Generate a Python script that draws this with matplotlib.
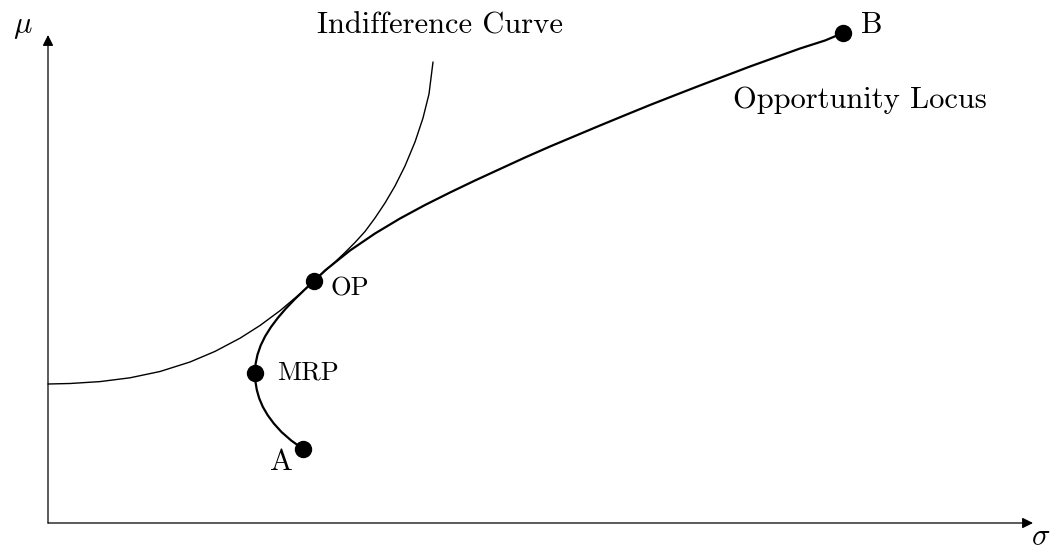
import matplotlib
matplotlib.use("Agg")
import matplotlib.pyplot as plt

# opportunity locus, A -> MRP -> OP -> B  (sigma, mu)
locus_sigma = [2.550, 2.432, 2.336, 2.259, 2.197, 2.148, 2.112, 2.088, 2.074,
               2.070,
               2.076, 2.095, 2.127, 2.172, 2.230, 2.299, 2.378, 2.466, 2.561,
               2.660,
               2.77, 3.02, 3.27, 3.52, 3.77, 4.02, 4.27, 4.52, 4.77, 5.02,
               5.27, 5.52, 5.77, 6.02, 6.27, 6.52, 6.77, 7.02, 7.27, 7.52,
               7.77, 7.95]
locus_mu = [0.740, 0.825, 0.909, 0.994, 1.078, 1.162, 1.247, 1.331, 1.416,
            1.500,
            1.592, 1.684, 1.776, 1.868, 1.960, 2.052, 2.144, 2.236, 2.328,
            2.420,
            2.525, 2.725, 2.895, 3.045, 3.180, 3.305, 3.425, 3.540, 3.655,
            3.765, 3.870, 3.975, 4.078, 4.180, 4.278, 4.375, 4.470, 4.565,
            4.655, 4.745, 4.825, 4.900]

# indifference curve, tangent to the locus at OP
indiff_sigma = [0.00, 0.22, 0.52, 0.82, 1.12, 1.42, 1.67, 1.92, 2.12, 2.32,
                2.52, 2.66, 2.77, 2.87, 2.97, 3.07, 3.17, 3.27, 3.37, 3.47,
                3.57, 3.67, 3.75, 3.81, 3.85]
indiff_mu = [1.390, 1.395, 1.414, 1.452, 1.515, 1.610, 1.716, 1.848, 1.975,
             2.123, 2.292, 2.420, 2.520, 2.610, 2.705, 2.805, 2.915, 3.050,
             3.200, 3.370, 3.570, 3.810, 4.050, 4.290, 4.610]

# marked points
pt_names = ["A", "MRP", "OP", "B"]
pt_sigma = [2.55, 2.07, 2.66, 7.95]
pt_mu = [0.74, 1.50, 2.42, 4.90]

plt.rcParams["font.family"] = ["cmr10", "DejaVu Serif"]
plt.rcParams["mathtext.fontset"] = "cm"
plt.rcParams["axes.unicode_minus"] = False

fig = plt.figure(figsize=(10.55, 5.49), dpi=100)
ax = fig.add_axes([0, 0, 1, 1])
ax.set_xlim(-0.48, 10.07)
ax.set_ylim(-0.26, 5.23)
ax.axis("off")

# axes with arrow heads
arr = dict(arrowstyle="-|>", lw=0.9, color="black", mutation_scale=16,
           shrinkA=0, shrinkB=0)
ax.annotate("", xy=(0, 4.88), xytext=(0, 0), arrowprops=arr)
ax.annotate("", xy=(9.85, 0), xytext=(0, 0), arrowprops=arr)

ax.plot(indiff_sigma, indiff_mu, color="black", lw=1.0,
        solid_joinstyle="round", solid_capstyle="round")
ax.plot(locus_sigma, locus_mu, color="black", lw=1.6,
        solid_joinstyle="round", solid_capstyle="round")
ax.plot(pt_sigma, pt_mu, "o", color="black", ms=11.5, zorder=5)

big, small = 22, 19
ax.text(3.92, 4.90, "Indifference Curve", fontsize=big, ha="center", va="baseline")
ax.text(6.85, 4.15, "Opportunity Locus", fontsize=big, ha="left", va="baseline")
ax.text(8.13, 4.90, pt_names[3], fontsize=big, ha="left", va="baseline")
ax.text(2.45, 0.53, pt_names[0], fontsize=big, ha="right", va="baseline")
ax.text(2.82, 2.27, pt_names[2], fontsize=small, ha="left", va="baseline")
ax.text(2.29, 1.44, pt_names[1], fontsize=small, ha="left", va="baseline")
ax.text(-0.35, 4.90, r"$\mu$", fontsize=big, ha="left", va="baseline")
ax.text(9.83, -0.22, r"$\sigma$", fontsize=big, ha="left", va="baseline")

fig.savefig("out.png", dpi=100)
